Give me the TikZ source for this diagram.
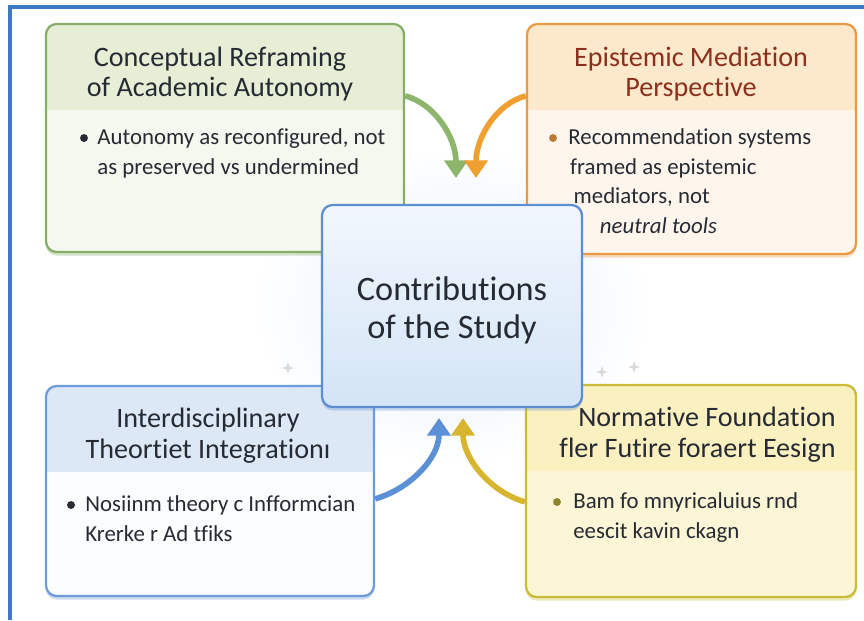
\documentclass[tikz,border=0pt]{standalone}
\usepackage{fontspec}
\setmainfont{Carlito}[Ligatures=NoCommon]
\usetikzlibrary{arrows.meta,fit,shadows}

\definecolor{frameblue}{HTML}{3B79C2}
\definecolor{inkdark}{HTML}{262A33}
\definecolor{grnline}{HTML}{86AE68}
\definecolor{grnhead}{HTML}{E6EED6}
\definecolor{grnbody}{HTML}{F5F8EE}
\definecolor{grnarrow}{HTML}{8DB56C}
\definecolor{orgline}{HTML}{E99A45}
\definecolor{orghead}{HTML}{FCE8CA}
\definecolor{orgbody}{HTML}{FEF6EC}
\definecolor{orgtext}{HTML}{8A301C}
\definecolor{orgarrow}{HTML}{F0A030}
\definecolor{bluline}{HTML}{6F9BD6}
\definecolor{bluhead}{HTML}{DDE8F6}
\definecolor{blubody}{HTML}{FAFCFE}
\definecolor{bluarrow}{HTML}{5B8FD6}
\definecolor{yelline}{HTML}{C9BC3A}
\definecolor{yelhead}{HTML}{FAF0C0}
\definecolor{yelbody}{HTML}{FCF5D6}
\definecolor{yelarrow}{HTML}{D8B52E}
\definecolor{hubline}{HTML}{5E8ED2}
\definecolor{hubtop}{HTML}{F2F7FD}
\definecolor{hubbot}{HTML}{D3E4F6}

\newcommand{\headband}[1]{\fill[#1, sharp corners] ([yshift=-1.72cm]path picture bounding box.north west) rectangle (path picture bounding box.north east);}
\newcommand{\sparkle}[1]{\fill[gray!30] #1 +(0,-6) -- +(1.4,-1.4) -- +(6,0) -- +(1.4,1.4) -- +(0,6) -- +(-1.4,1.4) -- +(-6,0) -- +(-1.4,-1.4) -- cycle;}

\tikzstyle{card}=[rounded corners=6pt, line width=1.3pt, inner sep=0pt]
\tikzstyle{green_card}=[card, draw=grnline, fill=grnbody, drop shadow={shadow xshift=0pt, shadow yshift=-2pt, opacity=.35, fill=grnline}, path picture={\headband{grnhead}}]
\tikzstyle{orange_card}=[card, draw=orgline, fill=orgbody, drop shadow={shadow xshift=0pt, shadow yshift=-2pt, opacity=.35, fill=orgline}, path picture={\headband{orghead}}]
\tikzstyle{blue_card}=[card, draw=bluline, fill=blubody, drop shadow={shadow xshift=0pt, shadow yshift=-2pt, opacity=.35, fill=bluline}, path picture={\headband{bluhead}}]
\tikzstyle{yellow_card}=[card, draw=yelline, fill=yelbody, drop shadow={shadow xshift=0pt, shadow yshift=-2pt, opacity=.35, fill=yelline}, path picture={\headband{yelhead}}]
\tikzstyle{hub}=[card, draw=hubline, top color=hubtop, bottom color=hubbot, drop shadow={shadow xshift=0pt, shadow yshift=-2pt, opacity=.3, fill=hubline}]
\tikzstyle{head}=[font=\fontsize{16}{17.6}\selectfont, align=center, text=inkdark, inner sep=0pt]
\tikzstyle{item}=[font=\fontsize{13}{17}\selectfont, align=left, text=inkdark, inner sep=0pt, anchor=north west]
\tikzstyle{dot}=[circle, inner sep=0pt, minimum size=4.5pt]
\tikzstyle{arrow}=[line width=3.2pt, -{Triangle[width=13pt, length=10pt]}]

\begin{document}
\begin{tikzpicture}[x=0.02cm, y=-0.02cm]
    \useasboundingbox (0,0) rectangle (864,620);
    \shade[inner color=hubbot!60, outer color=white] (452,306) ellipse [x radius=200, y radius=160];
    \draw[frameblue, line width=2pt] (10,620) -- (10,7) -- (864,7);

    \node (reframe) [green_card, fit={(46,24) (404,252)}] {};
    \node (mediation) [orange_card, fit={(527,24) (856,254)}] {};
    \node (integration) [blue_card, fit={(46,386) (374,596)}] {};
    \node (foundation) [yellow_card, fit={(526,385) (856,597)}] {};

    \node (reframe_title) at (220,74) [head] {Conceptual Reframing\\of Academic Autonomy};
    \node (reframe_dot) at (84,138) [dot, fill=inkdark] {};
    \node (reframe_text) at (97,128) [item] {Autonomy as reconfigured, not\\as preserved vs undermined};

    \node (mediation_title) at (691,74) [head, text=orgtext] {Epistemic Mediation\\Perspective};
    \node (mediation_dot) at (553,138) [dot, fill=orgline!80!black] {};
    \node (mediation_text) at (568,128) [item] {Recommendation systems\\\hspace*{1pt}framed as epistemic\\\hspace*{3pt}mediators, not\\\hspace*{18pt}\textit{neutral tools}};

    \node (integration_title) at (208,436) [head] {Interdisciplinary\\Theortiet Integrationı};
    \node (integration_dot) at (71,505) [dot, fill=inkdark] {};
    \node (integration_text) at (85,495) [item] {Nosiinm theory c Infformcian\\Krerke r Ad tfiks};

    \node (foundation_title) at (836,435) [head, anchor=east, align=right] {Normative Foundation\\fler Futire foraert Eesign};
    \node (foundation_dot) at (557,502) [dot, fill=yelline!70!black] {};
    \node (foundation_text) at (573,492) [item] {Bam fo mnyricaluius rnd\\eescit kavin ckagn};

    \draw[arrow, grnarrow] ([yshift=-1.46cm]reframe.north east) .. controls +(30,8) and +(0,-40) .. (456,178);
    \draw[arrow, orgarrow] ([yshift=-1.46cm]mediation.north west) .. controls +(-30,8) and +(0,-40) .. (476,178);
    \draw[arrow, bluarrow] ([yshift=-2.28cm]integration.north east) .. controls +(35,-10) and +(0,40) .. (439,418);
    \draw[arrow, yelarrow] ([yshift=-2.36cm]foundation.north west) .. controls +(-35,-10) and +(0,40) .. (463,418);

    \node (hub) [hub, fit={(322,205) (582,407)}] {};
    \node (hub_title) at (452,310) [head, font=\fontsize{19.5}{21.5}\selectfont] {Contributions\\of the Study};

    \sparkle{(288,368)}
    \sparkle{(602,372)}
    \sparkle{(634,367)}
\end{tikzpicture}
\end{document}
